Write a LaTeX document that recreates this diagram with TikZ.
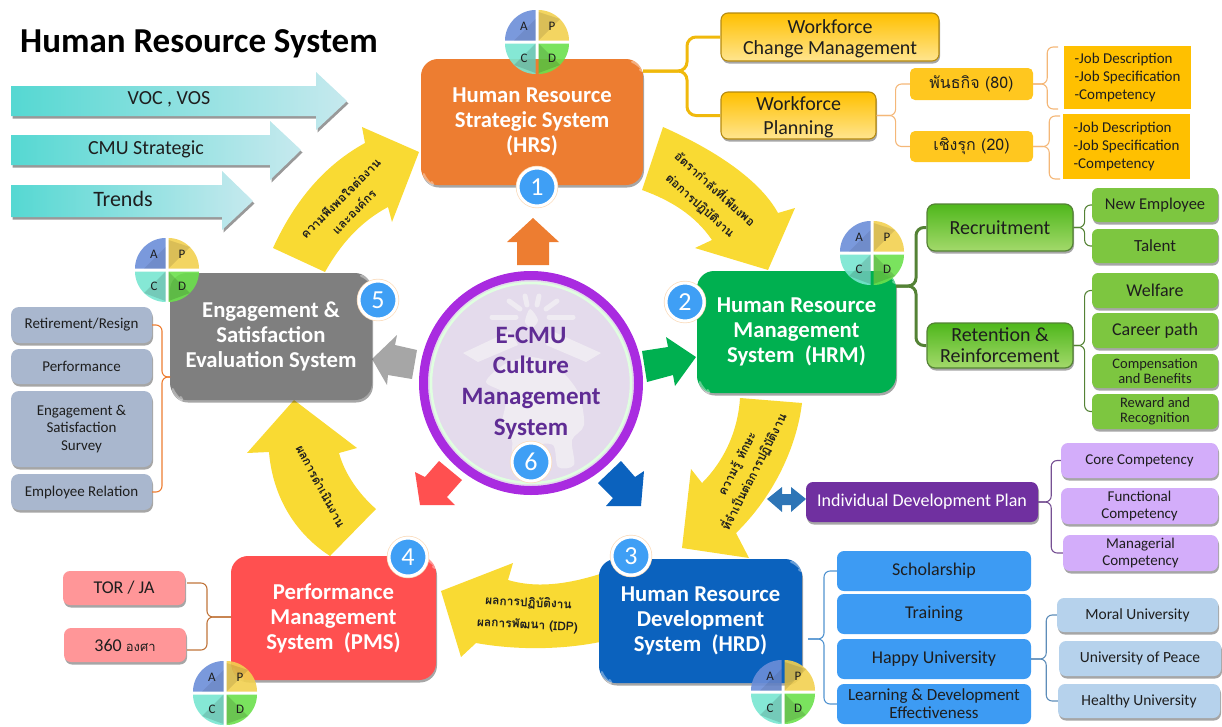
\documentclass[tikz,border=0pt]{standalone}
\usepackage{fontspec}
\setmainfont{Carlito}
\newfontfamily\thaifont[Script=Thai]{Loma}
\usetikzlibrary{shadows,calc}
\definecolor{hrsC}{HTML}{ED7D31}
\definecolor{hrmC}{HTML}{00B050}
\definecolor{hrdC}{HTML}{0B62BE}
\definecolor{pmsC}{HTML}{FF5050}
\definecolor{evalC}{HTML}{7F7F7F}
\definecolor{yel}{HTML}{F9DA33}
\definecolor{ink}{HTML}{1E1E1E}
\definecolor{badge}{HTML}{3F9FF5}
\definecolor{ringC}{HTML}{A92BE0}
\definecolor{discC}{HTML}{E4DBEC}
\definecolor{markC}{HTML}{EFEBF2}
\definecolor{cmC}{HTML}{5F2C94}
\definecolor{goldLine}{HTML}{F0B90C}
\definecolor{tanLine}{HTML}{F4B778}
\definecolor{ambA}{HTML}{FFC000}
\definecolor{ambB}{HTML}{FFC71F}
\definecolor{goldEdge}{HTML}{B58A10}
\definecolor{goldLow}{HTML}{FFE58F}
\definecolor{greenLine}{HTML}{548235}
\definecolor{greenTop}{HTML}{4FB71C}
\definecolor{greenLow}{HTML}{A3D96B}
\definecolor{greenS}{HTML}{7DC640}
\definecolor{slate}{HTML}{A9B7CE}
\definecolor{purp}{HTML}{7030A0}
\definecolor{lilac}{HTML}{D3ADFA}
\definecolor{skyB}{HTML}{3D9BF3}
\definecolor{paleB}{HTML}{B6D2EC}
\definecolor{rose}{HTML}{FF9698}
\definecolor{brownL}{HTML}{C0743A}
\definecolor{dblC}{HTML}{2E75B6}
\definecolor{inA}{HTML}{55D8D2}
\definecolor{inB}{HTML}{C6E9EE}
\definecolor{qA}{HTML}{6C8ED8}
\definecolor{qP}{HTML}{F2D050}
\definecolor{qC}{HTML}{78E6D0}
\definecolor{qD}{HTML}{6CE04C}
\tikzset{
 shd/.style={drop shadow={shadow xshift=1pt,shadow yshift=-2.5pt,fill=black,opacity=.35}},
 bigbox/.style={rounded corners=17pt,shd,text=white,align=center,font=\fontsize{22.7}{25}\selectfont\bfseries},
 goldbox/.style={rounded corners=7pt,draw=goldEdge,line width=1.1pt,top color=ambA,bottom color=goldLow,shd,text=ink,align=center,font=\fontsize{20}{#1}\selectfont},
 goldbox/.default=24,
 greenbox/.style={rounded corners=8pt,draw=greenLine,line width=1.2pt,top color=greenTop,bottom color=greenLow,shd,text=ink,align=center,font=\fontsize{20}{21}\selectfont},
 amb/.style={rounded corners=5pt,fill=ambB,text=ink,align=center,font=\thaifont\fontsize{16}{18}\selectfont},
 joblist/.style={fill=ambA,text=ink,align=left,font=\fontsize{15}{18}\selectfont},
 sgreen/.style={rounded corners=6pt,fill=greenS,shd,text=ink,align=center,font=\fontsize{#1}{15}\selectfont},
 sgrey/.style={rounded corners=8pt,fill=slate,shd,text=ink,align=center,font=\fontsize{15}{17.5}\selectfont},
 slilac/.style={rounded corners=7pt,fill=lilac,shd,text=ink,align=center,font=\fontsize{15}{17}\selectfont},
 sblue/.style={rounded corners=7pt,fill=skyB,text=ink,align=center,font=\fontsize{#1}{18}\selectfont},
 spale/.style={rounded corners=7pt,fill=paleB,shd,text=ink,align=center,font=\fontsize{15.5}{17}\selectfont},
 srose/.style={rounded corners=7pt,fill=rose,shd,text=ink,align=center,font=\fontsize{18}{20}\selectfont},
 badgec/.style={circle,fill=badge,draw=white,line width=3pt,minimum size=38pt,inner sep=0pt,text=white,font=\fontsize{26}{26}\selectfont,preaction={draw=tanLine!50!white,line width=4.4pt}},
 ybar/.style={fill=yel},
 thaiT/.style={text=ink,align=center,font=\thaifont\bfseries\fontsize{12}{#1}\selectfont},
 thaiT/.default=21,
 inflow/.style={left color=inA,right color=inB,drop shadow={shadow xshift=1.5pt,shadow yshift=-2.5pt,fill=black,opacity=.4}},
 inlab/.style={text=ink,font=\fontsize{20}{22}\selectfont},
 pdlab/.style={text=ink,font=\fontsize{13}{13}\selectfont,inner sep=0pt},
 conn/.style={rounded corners=6pt,line width=#1},
 conn/.default=1.1pt,
 sheen/.style={white,opacity=.38,line width=2.4pt,line cap=round}
}
\newcommand\boxat[7][]{%
 \pgfmathsetmacro\bcx{(#3+#5)/2}\pgfmathsetmacro\bcy{(#4+#6)/2}%
 \pgfmathsetmacro\bw{#5-#3}\pgfmathsetmacro\bh{#6-#4}%
 \node[#1,minimum width=\bw pt,minimum height=\bh pt,inner sep=0pt] (#2) at (\bcx,\bcy) {#7};}
\newcommand\pdca[3]{%
 \begin{scope}[shift={(#2,#3)}]
  \fill[fill=qA,fill opacity=.9] (-1.5,-1.5) -- (-32,-1.5) .. controls (-32,-18) and (-18,-32) .. (-1.5,-32) -- cycle;
  \fill[fill=qP,fill opacity=.9] (1.5,-1.5) -- (32,-1.5) .. controls (32,-18) and (18,-32) .. (1.5,-32) -- cycle;
  \fill[fill=qC,fill opacity=.9] (-1.5,1.5) -- (-32,1.5) .. controls (-32,18) and (-18,32) .. (-1.5,32) -- cycle;
  \fill[fill=qD,fill opacity=.9] (1.5,1.5) -- (32,1.5) .. controls (32,18) and (18,32) .. (1.5,32) -- cycle;
  \fill[black,fill opacity=.08] (-1.5,-1.5) -- (-23,-1.5) -- (-1.5,-23) -- cycle;
  \fill[black,fill opacity=.1] (1.5,-1.5) -- (1.5,-30) -- (23,-23) -- cycle;
  \fill[black,fill opacity=.13] (-1.5,1.5) -- (-1.5,31) -- (-23,23) -- cycle;
  \fill[black,fill opacity=.13] (1.5,1.5) -- (1.5,31) -- (23,23) -- cycle;
  \node[pdlab] (#1a) at (-13,-16) {A};
  \node[pdlab] (#1p) at (15,-16) {P};
  \node[pdlab] (#1c) at (-13,16) {C};
  \node[pdlab] (#1d) at (15,16) {D};
 \end{scope}}
\begin{document}
\begin{tikzpicture}[x=1pt,y=-1pt]
\useasboundingbox (0,0) rectangle (1222,726);
% title
\node[anchor=west,inner sep=0pt,text=black,font=\fontsize{35}{36}\selectfont\bfseries] (title) at (20,44) {Human Resource System};
% input arrows
\shade[inflow] (11,86) -- (316,86) -- (316,72) -- (347,101) -- (316,130) -- (316,116) -- (11,116) -- cycle;
\shade[inflow] (11,135) -- (270,135) -- (270,121) -- (301,150) -- (270,180) -- (270,165) -- (11,165) -- cycle;
\shade[inflow] (11,185) -- (222,185) -- (222,171) -- (253,201) -- (222,230) -- (222,217) -- (11,217) -- cycle;
\node[inlab] (voc) at (169,99) {VOC , VOS};
\node[inlab] (cmus) at (146,149) {CMU Strategic};
\node[inlab,font=\fontsize{22}{24}\selectfont] (trends) at (123,199) {Trends};
% yellow cycle arrows
\fill[ybar] (663,127) .. controls (715,150) and (760,180) .. (778,213) -- (795,208) -- (768,270) -- (695,248) -- (712,240) .. controls (695,215) and (670,200) .. (642,190) -- cycle;
\fill[ybar] (740,398) .. controls (738,430) and (725,460) .. (702,483) -- (691,469) -- (682,548) -- (749,558) -- (736,533) .. controls (775,495) and (797,445) .. (802,403) -- cycle;
\fill[ybar] (441,591) -- (513,563) -- (508,580) .. controls (535,588) and (565,585) .. (600,574) -- (600,642) .. controls (560,650) and (515,650) .. (476,643) -- (461,657) -- cycle;
\fill[ybar] (294,400) -- (357,448) -- (339,453) .. controls (345,475) and (360,495) .. (376,509) -- (330,556) .. controls (290,530) and (272,490) .. (269,452) -- (247,453) -- cycle;
\fill[ybar] (273,248) .. controls (295,200) and (325,165) .. (365,143) -- (362,127) -- (419,152) -- (392,222) -- (388,207) .. controls (360,222) and (340,245) .. (325,272) -- cycle;
\node[thaiT=22,rotate=-42] (tA) at (708,197) {อัตรากำลังที่เพียงพอ\\ต่อการปฏิบัติงาน};
\node[thaiT=19,rotate=63] (tB) at (746,468) {ความรู้ ทักษะ\\ที่จำเป็นต่อการปฏิบัติงาน};
\node[thaiT=22,rotate=-3] (tC) at (528,614) {ผลการปฏิบัติงาน\\ผลการพัฒนา (IDP)};
\node[thaiT,rotate=-62] (tD) at (321,486) {ผลการดำเนินงาน};
\node[thaiT=19,rotate=45] (tE) at (347,205) {ความพึงพอใจต่องาน\\และองค์กร};
% block arrows from the centre
\fill[hrsC] (533,218) -- (559,242) -- (549,242) -- (549,265) -- (517,265) -- (517,242) -- (507,242) -- cycle;
\fill[hrmC] (642,351) -- (668,347) -- (666,337) -- (696,357) -- (675,386) -- (673,375) -- (647,382) -- cycle;
\fill[hrdC] (641,506) -- (606,506) -- (613,498) -- (598,483) -- (621,461) -- (635,477) -- (644,471) -- cycle;
\fill[pmsC] (420,505) -- (415,472) -- (425,477) -- (439,461) -- (462,480) -- (447,497) -- (455,505) -- cycle;
\fill[black!35] (372,359) -- (397,335) -- (395,345) -- (417,350) -- (412,379) -- (388,375) -- (387,385) -- cycle;
% centre
\node[circle,minimum size=215pt,inner sep=0pt,line width=9pt,draw=ringC,fill=discC,shd] (cm) at (531,383) {};
\draw[green!12!white,line width=2.5pt] (cm.center) circle[radius=100pt];
\foreach \xa/\ya/\xb/\yb in {492/317/516/317,549/317/573/317,509/301/520/309,557/301/546/309,525/296/527/305,539/296/537/305}
  \draw[markC,line width=5pt,line cap=round] (\xa,\ya) -- (\xb,\yb);
\fill[markC] (463,353) -- (510,331) -- (518,345) -- (478,362) -- cycle;
\fill[markC] (601,353) -- (552,331) -- (546,345) -- (586,362) -- cycle;
\fill[markC] plot[smooth cycle] coordinates {(530,309) (525,322) (532,328) (538,320)};
\fill[markC] plot[smooth cycle] coordinates {(486,382) (505,364) (530,357) (555,365) (578,392) (584,425) (572,440) (574,465) (558,467) (553,445) (532,447) (530,467) (512,467) (512,440) (502,425) (506,395)};
\node[text=cmC,align=center,inner sep=0pt,font=\fontsize{25}{30.7}\selectfont\bfseries] (cmtext) at (531,383) {E-CMU\\Culture\\Management\\System};
% main boxes
\boxat[bigbox,fill=hrsC]{hrs}{421}{59}{643}{185}{Human Resource\\Strategic System\\(HRS)}
\boxat[bigbox,fill=hrmC]{hrm}{697}{271}{896}{393}{Human Resource\\Management\\System\ \ (HRM)}
\boxat[bigbox,fill=hrdC]{hrd}{599}{559}{802}{683}{Human Resource\\Development\\System\ \ (HRD)}
\boxat[bigbox,fill=pmsC]{pms}{231}{556}{436}{680}{Performance\\Management\\System\ \ (PMS)}
\boxat[bigbox,fill=evalC]{eva}{170}{273}{372}{400}{Engagement \&\\Satisfaction\\Evaluation System}
\foreach \m in {hrs,hrm,hrd,pms,eva}{
  \draw[sheen] ($(\m.north east)+(-11,3)$) .. controls +(5,1) and +(7,4) .. ($(\m.north east)+(-3,11)$);
  \draw[sheen] ($(\m.south west)+(3,-11)$) .. controls +(1,5) and +(4,7) .. ($(\m.south west)+(11,-3)$);
}
% double arrow
\fill[dblC] (767,499) -- (782,487) -- (782,494) -- (791,494) -- (791,487) -- (806,499) -- (791,512) -- (791,505) -- (782,505) -- (782,512) -- cycle;
% HRS branch
\boxat[goldbox=21]{wcm}{721}{13}{939}{61}{\rule{0pt}{18pt}Workforce\\Change Management}
\boxat[goldbox]{wfp}{721}{92}{876}{139}{\rule{0pt}{18pt}Workforce\\Planning}
\boxat[amb]{mis}{910}{68}{1033}{100}{พันธกิจ (80)}
\boxat[amb]{pro}{910}{131}{1033}{162}{เชิงรุก (20)}
\boxat[joblist]{ja}{1064}{46}{1191}{109}{-Job Description\\-Job Specification\\-Competency}
\boxat[joblist]{jb}{1063}{114}{1190}{179}{-Job Description\\-Job Specification\\-Competency}
\coordinate (hrsOut) at (643,71);
\draw[goldLine,conn=3pt,rounded corners=9pt] (hrsOut) -- ++(44,0) |- (wcm.west);
\draw[goldLine,conn=3pt,rounded corners=9pt] (hrsOut) -- ++(44,0) |- (wfp.west);
\draw[tanLine,conn] (wfp.east) -- ++(19,0) |- (mis.west);
\draw[tanLine,conn] (wfp.east) -- ++(19,0) |- (pro.west);
\coordinate (jaT) at (1058,47);\coordinate (jaB) at (1058,109);\coordinate (jbT) at (1060,116);\coordinate (jbB) at (1060,179);
\draw[tanLine,conn] (mis.east) -- ++(14,0) |- (jaT);
\draw[tanLine,conn] (mis.east) -- ++(14,0) |- (jaB);
\draw[tanLine,conn] (pro.east) -- ++(16,0) |- (jbT);
\draw[tanLine,conn] (pro.east) -- ++(16,0) |- (jbB);
% HRM branch
\boxat[greenbox]{rec}{927}{204}{1073}{251}{Recruitment}
\boxat[greenbox]{ret}{927}{323}{1073}{368}{Retention \&\\Reinforcement}
\boxat[sgreen=16.5]{ne}{1092}{188}{1218}{222}{New Employee}
\boxat[sgreen=17]{tal}{1092}{229}{1218}{263}{Talent}
\boxat[sgreen=18]{wel}{1092}{273}{1218}{308}{Welfare}
\boxat[sgreen=18]{car}{1092}{313}{1218}{348}{Career path}
\boxat[sgreen=14.5]{com}{1092}{354}{1218}{388}{Compensation\\and Benefits}
\boxat[sgreen=14.5]{rew}{1092}{394}{1218}{429}{Reward and\\Recognition}
\coordinate (hrmOut) at (896,286);
\draw[greenLine,conn=3pt,rounded corners=8pt] (hrmOut) -- ++(20,0) |- (rec.west);
\draw[greenLine,conn=3pt,rounded corners=8pt] (hrmOut) -- ++(20,0) |- (ret.west);
\draw[greenLine,conn] (rec.east) -- ++(11,0) |- (ne.west);
\draw[greenLine,conn] (rec.east) -- ++(11,0) |- (tal.west);
\draw[greenLine,conn] (ret.east) -- ++(11,0) |- (wel.west);
\draw[greenLine,conn] (ret.east) -- ++(11,0) |- (rew.west);
% HRD branch
\boxat[fill=purp,rounded corners=7pt,shd,text=white,font=\fontsize{18}{20}\selectfont]{idp}{806}{482}{1038}{522}{Individual Development Plan}
\boxat[slilac]{cor}{1061}{443}{1218}{478}{Core Competency}
\boxat[slilac]{fun}{1061}{488}{1218}{524}{Functional\\Competency}
\boxat[slilac]{man}{1063}{535}{1218}{571}{Managerial\\Competency}
\draw[purp!60!gray,conn] (idp.east) -- ++(13,0) |- (cor.west);
\draw[purp!60!gray,conn] (idp.east) -- ++(13,0) |- (man.west);
\boxat[sblue=18]{sch}{837}{551}{1031}{591}{Scholarship}
\boxat[sblue=18]{tra}{837}{594}{1031}{634}{Training}
\boxat[sblue=18]{hap}{837}{639}{1031}{679}{Happy University}
\boxat[sblue=17]{lnd}{837}{684}{1031}{724}{Learning \& Development\\Effectiveness}
\coordinate (hrdOut) at (808,639);
\draw[skyB!70!gray,conn] (hrdOut) -- ++(16,0) |- (sch.west);
\draw[skyB!70!gray,conn] (hrdOut) -- ++(16,0) |- (lnd.west);
\boxat[spale]{mor}{1057}{598}{1218}{632}{Moral University}
\boxat[spale]{pea}{1059}{641}{1221}{676}{University of Peace}
\boxat[spale]{hea}{1058}{684}{1220}{718}{Healthy University}
\draw[skyB!50!gray,conn] (hap.east) -- ++(15,0) |- (mor.west);
\draw[skyB!50!gray,conn] (hap.east) -- ++(15,0) |- (hea.west);
% PMS branch
\boxat[srose]{tor}{63}{571}{185}{605}{TOR / JA}
\boxat[srose]{tsx}{64}{628}{186}{662}{360 {\thaifont\fontsize{13}{14}\selectfont องศา}}
\coordinate (pmsIn) at (231,617);
\coordinate (torR) at (187,583);\coordinate (tsxR) at (187,650);
\draw[brownL,conn] (pmsIn) -- ++(-24,0) |- (torR);
\draw[brownL,conn] (pmsIn) -- ++(-24,0) |- (tsxR);
% Evaluation branch
\boxat[sgrey]{ret2}{11}{307}{152}{343}{Retirement/Resign}
\boxat[sgrey]{perf}{11}{349}{152}{384}{Performance}
\boxat[sgrey]{sur}{11}{391}{152}{467}{Engagement \&\\Satisfaction\\Survey}
\boxat[sgrey]{rel}{11}{474}{152}{510}{Employee Relation}
\coordinate (evaIn) at (170,377);
\draw[hrsC,conn] (evaIn) -- ++(-8,0) |- (ret2.east);
\draw[hrsC,conn] (evaIn) -- ++(-8,0) |- (rel.east);
% PDCA wheels
\pdca{pa}{537}{42}
\pdca{pb}{872}{253}
\pdca{pc}{783}{692}
\pdca{pd}{225}{693}
\pdca{pe}{167}{270}
% number badges
\node[badgec] (n1) at (537,187) {1};
\node[badgec] (n2) at (685,302) {2};
\node[badgec] (n3) at (631,556) {3};
\node[badgec] (n4) at (408,557) {4};
\node[badgec] (n5) at (378,300) {5};
\node[badgec] (n6) at (531,462) {6};
\end{tikzpicture}
\end{document}
